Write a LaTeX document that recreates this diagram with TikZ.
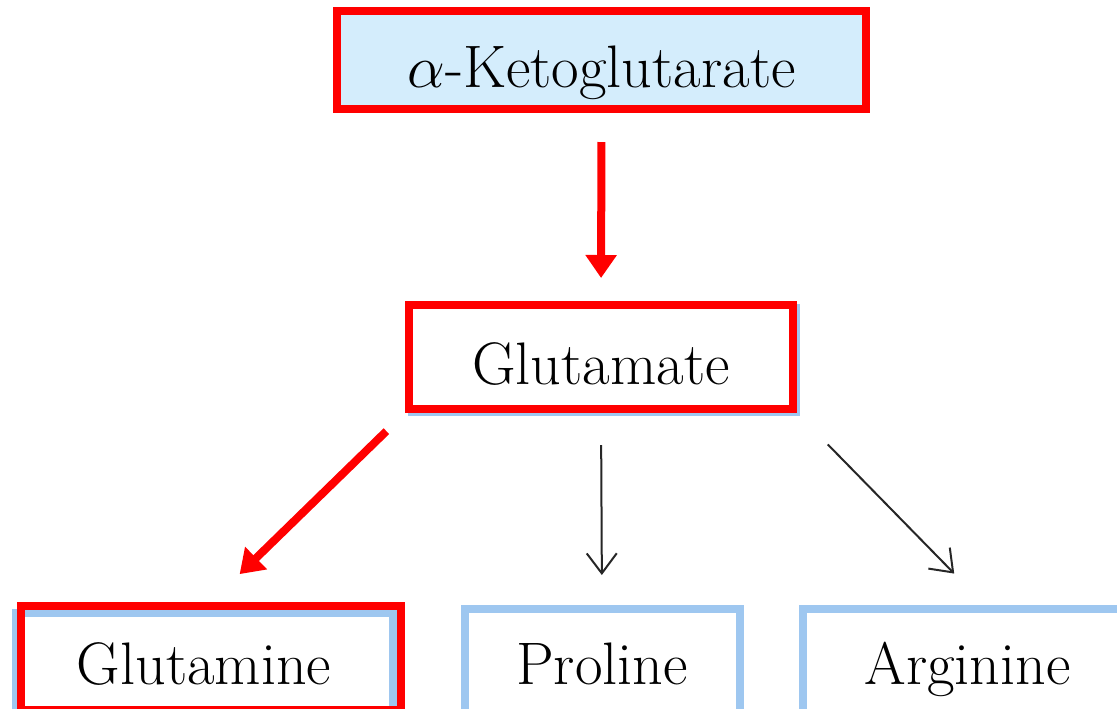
\documentclass[tikz,border=0pt]{standalone}
\usepackage{tikz}
\usetikzlibrary{arrows.meta}
\definecolor{hlred}{RGB}{255,0,0}
\definecolor{boxblue}{RGB}{158,199,240}
\definecolor{ketofill}{RGB}{212,237,252}
\newcommand{\boxfont}{\fontsize{30}{36}\selectfont}
\newcommand{\bigalpha}{\scalebox{1.2057}{\fontsize{24.88}{30}\selectfont$\alpha$}}
\tikzset{
  mbox/.style = {draw=boxblue, line width=4pt, inner sep=0pt, minimum height=52pt, text height=23pt, text depth=0pt, font=\boxfont},
  hlbox/.style = {draw=hlred, line width=4pt, inner sep=0pt, minimum height=52pt, text height=27pt, text depth=0pt, font=\boxfont},
  redarrow/.style = {draw=hlred, line width=4pt, -{Triangle[width=15pt,length=11.5pt]}},
  thinarrow/.style = {draw=black!85, line width=1pt, -{Straight Barb[width=15pt,length=10pt]}},
}

\begin{document}
\begin{tikzpicture}[x=0.5pt,y=-0.5pt]
\useasboundingbox (0,0) rectangle (1117,708);
\clip (0,0) rectangle (1117,708);
\node[hlbox, fill=ketofill, minimum width=264.5pt, minimum height=49pt] (keto) at (601.5,60) {\bigalpha-Ketoglutarate};
\node[mbox, minimum width=192pt] (gluback) at (604,360) {};
\node[hlbox, fill=white, minimum width=192pt] (glu) at (601,357) {Glutamate};
\node[mbox, minimum width=188.5pt, text height=19pt] (gln) at (204,665) {Glutamine};
\node[hlbox, minimum width=190pt] (glnhl) at (211,658) {};
\node[mbox, minimum width=137.5pt] (pro) at (602,661) {Proline};
\node[mbox, minimum width=164.5pt] (arg) at (967.5,661) {Arginine};
\coordinate (argin) at ([xshift=93pt]arg.north west);
\draw[redarrow, shorten <=14.5pt, shorten >=11.5pt] (keto.south) -- (glu.north);
\draw[redarrow, shorten <=13pt, shorten >=20pt] (glu.south west) -- (glnhl.north);
\draw[thinarrow, shorten <=16pt, shorten >=15pt] (glu.south) -- (pro.north);
\draw[thinarrow, shorten <=22pt, shorten >=22pt] (glu.south east) -- (argin);
\end{tikzpicture}
\end{document}
